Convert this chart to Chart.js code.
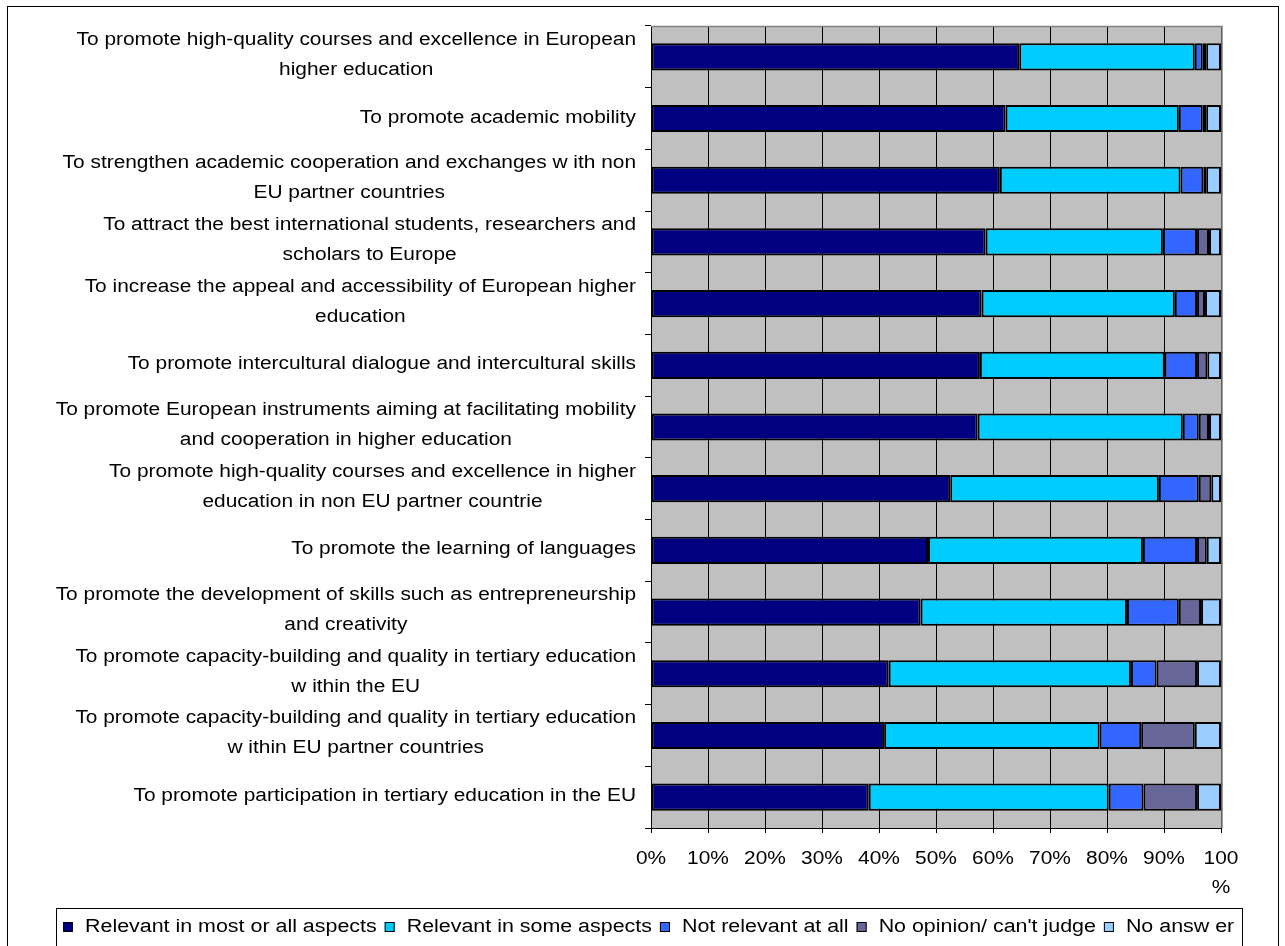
<!DOCTYPE html>
<html>
<head>
<meta charset="utf-8">
<script src="https://cdn.jsdelivr.net/npm/chart.js@4.4.0/dist/chart.umd.min.js"></script>
<style>
  html, body { margin: 0; padding: 0; background: #fff; }
  #wrap { position: relative; width: 1285px; height: 946px; }
</style>
</head>
<body>
<div id="wrap"><canvas id="chart" width="1285" height="946"></canvas></div>
<script>
// categories (top to bottom), multi-line as in the picture
const categories = [
  ['To promote high-quality courses and excellence in European', 'higher education'],
  ['To promote academic mobility'],
  ['To strengthen academic cooperation and exchanges w ith non', 'EU partner countries'],
  ['To attract the best international students, researchers and', 'scholars to Europe'],
  ['To increase the appeal and accessibility of European higher', 'education'],
  ['To promote intercultural dialogue and intercultural skills'],
  ['To promote European instruments aiming at facilitating mobility', 'and cooperation in higher education'],
  ['To promote high-quality courses and excellence in higher', 'education in non EU partner countrie'],
  ['To promote the learning of languages'],
  ['To promote the development of skills such as entrepreneurship', 'and creativity'],
  ['To promote capacity-building and quality in tertiary education', 'w ithin the EU'],
  ['To promote capacity-building and quality in tertiary education', 'w ithin EU partner countries'],
  ['To promote participation in tertiary education in the EU']
];

// series values in %
const relevantMost = [64.6, 62.2, 61.2, 58.7, 58.0, 57.7, 57.3, 52.5, 48.6, 47.3, 41.7, 40.9, 38.2];
const relevantSome = [30.8, 30.4, 31.7, 31.1, 33.9, 32.4, 36.0, 36.6, 37.7, 36.2, 42.5, 37.8, 42.1];
const notRelevant  = [1.4, 4.2, 4.0, 6.0, 3.9, 5.7, 2.8, 7.0, 9.5, 9.1, 4.5, 7.3, 6.1];
const noOpinion    = [0.6, 0.6, 0.5, 2.1, 1.4, 1.8, 1.8, 2.2, 1.7, 3.9, 7.1, 9.4, 9.4];
const noAnswer     = [2.6, 2.6, 2.6, 2.1, 2.8, 2.4, 2.1, 1.7, 2.5, 3.5, 4.2, 4.6, 4.2];

const seriesNames = ['Relevant in most or all aspects', 'Relevant in some aspects', 'Not relevant at all', "No opinion/ can't judge", 'No answ er'];
const seriesColors = ['#000080', '#00CCFF', '#3366FF', '#666699', '#99CCFF'];
const xTickValues = [0, 10, 20, 30, 40, 50, 60, 70, 80, 90, 100];

const FONT = '18px "Liberation Sans", Arial, sans-serif';
const SX = 1.16; // the original text is stretched horizontally
const SX_LEGEND = 1.19;

function drawText(ctx, text, x, y, align, sx) {
  ctx.save();
  ctx.translate(x, y);
  ctx.scale(sx || SX, 1);
  ctx.textAlign = align;
  ctx.textBaseline = 'middle';
  ctx.fillText(text, 0, 0);
  ctx.restore();
}

const decor = {
  id: 'decor',
  beforeDraw(chart) {
    const { ctx, chartArea: a } = chart;
    ctx.save();
    ctx.fillStyle = '#fff';
    ctx.fillRect(0, 0, chart.width, chart.height);
    ctx.fillStyle = '#C0C0C0';
    ctx.fillRect(a.left, a.top, a.right - a.left, a.bottom - a.top);
    ctx.restore();
  },
  beforeDatasetsDraw(chart) {
    const { ctx, chartArea: a } = chart;
    ctx.save();
    ctx.strokeStyle = '#808080';
    ctx.lineWidth = 1.5;
    ctx.beginPath();
    ctx.moveTo(a.left, a.top + 0.5);
    ctx.lineTo(a.right + 1, a.top + 0.5);
    ctx.lineTo(a.right + 1, a.bottom);
    ctx.stroke();
    ctx.restore();
  },
  afterDraw(chart) {
    const { ctx } = chart;
    const xs = chart.scales.x, ys = chart.scales.y;
    ctx.save();
    ctx.font = FONT;
    ctx.fillStyle = '#000';

    // category labels: block right-aligned, lines centred in the block
    categories.forEach((lines, i) => {
      const cy = ys.getPixelForValue(i);
      const w = Math.max(...lines.map(t => ctx.measureText(t).width)) * SX;
      const cx = 636 - w / 2;
      const n = lines.length;
      lines.forEach((t, k) => {
        const y = cy + (k - (n - 1) / 2) * 30 - (n > 1 ? 2 : 1);
        drawText(ctx, t, cx, y, 'center');
      });
    });

    // x tick labels
    xTickValues.forEach(v => {
      const x = xs.getPixelForValue(v);
      if (v === 100) {
        drawText(ctx, '100', x, 859, 'center');
        drawText(ctx, '%', x, 888, 'center');
      } else {
        drawText(ctx, v + '%', x, 859, 'center');
      }
    });

    // outer frame
    ctx.strokeStyle = '#000';
    ctx.lineWidth = 1;
    ctx.strokeRect(7.5, 6.5, 1271, 1000);

    // legend box
    ctx.strokeRect(56.5, 908.5, 1186, 100);
    let x = 63;
    chart.data.datasets.forEach(ds => {
      ctx.fillStyle = ds.backgroundColor;
      ctx.fillRect(x, 922, 10, 10);
      ctx.strokeStyle = '#000';
      ctx.strokeRect(x + 0.5, 922.5, 9, 9);
      ctx.fillStyle = '#000';
      drawText(ctx, ds.label, x + 22, 927, 'left', SX_LEGEND);
      x += 22 + ctx.measureText(ds.label).width * SX_LEGEND + 8;
    });
    ctx.restore();
  }
};

const seriesData = [relevantMost, relevantSome, notRelevant, noOpinion, noAnswer];

new Chart(document.getElementById('chart'), {
  type: 'bar',
  data: {
    labels: categories,
    datasets: seriesData.map((d, i) => ({
      label: seriesNames[i],
      data: d,
      backgroundColor: seriesColors[i],
      borderColor: '#000',
      borderWidth: 2,
      borderSkipped: false,
      categoryPercentage: 1,
      barPercentage: 0.44
    }))
  },
  options: {
    indexAxis: 'y',
    responsive: false,
    devicePixelRatio: 1,
    animation: false,
    layout: { padding: { top: 26, right: 64, left: 0, bottom: 0 } },
    plugins: { legend: { display: false }, tooltip: { enabled: false } },
    scales: {
      x: {
        stacked: true,
        min: 0,
        max: 100,
        ticks: { display: false, stepSize: 10 },
        grid: { color: '#000', lineWidth: 1, drawTicks: true, tickLength: 5, tickColor: '#000' },
        border: { color: '#000', width: 1 },
        afterFit(scale) { scale.height = 118; }
      },
      y: {
        stacked: true,
        ticks: { display: false },
        grid: { offset: true, drawOnChartArea: false, drawTicks: true, tickLength: 6, tickColor: '#000' },
        border: { color: '#000', width: 1 },
        afterFit(scale) { scale.width = 651; }
      }
    }
  },
  plugins: [decor]
});
</script>
</body>
</html>
